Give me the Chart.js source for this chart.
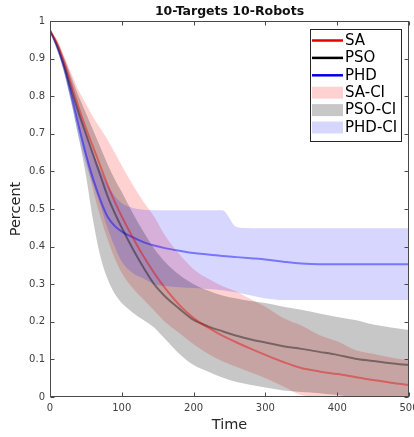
<!DOCTYPE html>
<html>
<head>
<meta charset="utf-8">
<script src="https://cdn.jsdelivr.net/npm/chart.js@4/dist/chart.umd.min.js"></script>
<style>
html,body{margin:0;padding:0;background:#fff;}
#c{display:block;}
</style>
</head>
<body>
<canvas id="c" width="414" height="437"></canvas>
<script>
// ---- data ----
const TIME = [0,10,20,30,40,50,60,70,80,90,100,115,130,145,160,180,200,220,240,260,280,300,325,350,375,400,425,450,475,500];
const SA     = [.975,.94,.89,.83,.77,.715,.665,.615,.565,.52,.48,.425,.375,.33,.29,.245,.21,.185,.163,.145,.128,.112,.093,.077,.068,.061,.053,.045,.038,.032];
const PSO    = [.975,.935,.88,.815,.755,.70,.645,.59,.535,.49,.45,.395,.345,.30,.268,.235,.205,.188,.175,.163,.153,.145,.135,.128,.12,.112,.102,.096,.09,.085];
const PHD    = [.975,.93,.875,.80,.72,.645,.58,.525,.48,.455,.44,.425,.412,.403,.396,.389,.383,.379,.375,.372,.369,.366,.36,.355,.353,.353,.353,.353,.353,.353];
const SA_HI  = [.975,.95,.905,.86,.815,.78,.745,.715,.685,.65,.615,.565,.52,.48,.43,.38,.34,.315,.295,.28,.26,.24,.21,.19,.165,.148,.125,.115,.105,.098];
const SA_LO  = [.975,.93,.87,.80,.72,.635,.55,.48,.42,.37,.33,.29,.26,.23,.20,.17,.14,.115,.095,.08,.065,.05,.028,.005,0,0,0,0,0,0];
const PSO_HI = [.975,.945,.90,.85,.80,.755,.71,.665,.62,.58,.545,.49,.44,.395,.36,.325,.30,.283,.27,.262,.255,.25,.24,.232,.222,.213,.205,.193,.185,.178];
const PSO_LO = [.975,.925,.86,.78,.69,.59,.47,.375,.315,.275,.25,.225,.205,.185,.155,.115,.085,.068,.052,.04,.032,.025,.017,.013,.01,.005,0,0,0,0];
const PHD_HI = [.975,.94,.89,.83,.765,.705,.65,.605,.565,.535,.515,.503,.498,.497,.497,.497,.497,.497,.497,.452,.449,.449,.449,.449,.449,.449,.449,.449,.449,.449];
const PHD_LO = [.975,.925,.86,.78,.69,.62,.565,.51,.45,.40,.36,.33,.315,.30,.295,.292,.29,.287,.284,.278,.27,.262,.258,.258,.258,.258,.258,.258,.258,.258];
const X_TICKS = [0,100,200,300,400,500];
const Y_TICKS = [0,0.1,0.2,0.3,0.4,0.5,0.6,0.7,0.8,0.9,1];
const LEGEND = [
  {label:'SA',     kind:'line', color:'rgb(230,0,0)'},
  {label:'PSO',    kind:'line', color:'rgb(0,0,0)'},
  {label:'PHD',    kind:'line', color:'rgb(0,0,230)'},
  {label:'SA-CI',  kind:'box',  color:'rgba(255,0,0,0.18)'},
  {label:'PSO-CI', kind:'box',  color:'rgba(0,0,0,0.22)'},
  {label:'PHD-CI', kind:'box',  color:'rgba(0,0,255,0.16)'}
];

const pts = arr => TIME.map((t,i)=>({x:t,y:arr[i]}));
const lineDs = (label, arr, color) => ({label, data:pts(arr), borderColor:color, borderWidth:2,
  pointRadius:0, fill:false, cubicInterpolationMode:'monotone', order:0});
const bandHi = (label, arr, color, order) => ({label, data:pts(arr), borderWidth:0, borderColor:'rgba(0,0,0,0)',
  backgroundColor:color, pointRadius:0, fill:'+1', cubicInterpolationMode:'monotone', order});
const bandLo = (label, arr, order) => ({label, data:pts(arr), borderWidth:0, borderColor:'rgba(0,0,0,0)',
  pointRadius:0, fill:false, cubicInterpolationMode:'monotone', order});

const datasets = [
  lineDs('SA', SA, 'rgba(230,0,0,0.42)'),
  lineDs('PSO', PSO, 'rgba(0,0,0,0.4)'),
  lineDs('PHD', PHD, 'rgba(0,0,255,0.45)'),
  bandHi('SA-CI', SA_HI, 'rgba(255,0,0,0.18)', 3),
  bandLo('SA-CI-low', SA_LO, 3),
  bandHi('PSO-CI', PSO_HI, 'rgba(0,0,0,0.22)', 2),
  bandLo('PSO-CI-low', PSO_LO, 2),
  bandHi('PHD-CI', PHD_HI, 'rgba(0,0,255,0.16)', 1),
  bandLo('PHD-CI-low', PHD_LO, 1)
];

const axisBox = {
  id:'axisBox',
  afterDatasetsDraw(chart){
    const {ctx, chartArea:a, scales:{x, y}} = chart;
    ctx.save();
    ctx.strokeStyle = '#4a4a4a';
    ctx.lineWidth = 1;
    const L = Math.round(a.left)+0.5, R = Math.round(a.right)-0.5, T = Math.round(a.top)+0.5, B = Math.round(a.bottom)-0.5;
    ctx.strokeRect(L, T, R-L, B-T);
    ctx.beginPath();
    const tl = 4;
    X_TICKS.forEach(v=>{
      const px = Math.round(x.getPixelForValue(v))+0.5;
      ctx.moveTo(px, B); ctx.lineTo(px, B-tl);
      ctx.moveTo(px, T); ctx.lineTo(px, T+tl);
    });
    Y_TICKS.forEach(v=>{
      const py = Math.round(y.getPixelForValue(v))+0.5;
      ctx.moveTo(L, py); ctx.lineTo(L+tl, py);
      ctx.moveTo(R, py); ctx.lineTo(R-tl, py);
    });
    ctx.stroke();
    ctx.restore();
  }
};

const boxLegend = {
  id:'boxLegend',
  afterDraw(chart){
    const ctx = chart.ctx;
    ctx.save();
    const bx = 310.5, by = 29.5, bw = 91, bh = 112;
    ctx.fillStyle = '#fff';
    ctx.fillRect(bx, by, bw, bh);
    ctx.strokeStyle = '#262626';
    ctx.lineWidth = 1;
    ctx.strokeRect(bx, by, bw, bh);
    ctx.font = '15px "DejaVu Sans"';
    ctx.textBaseline = 'middle';
    ctx.textAlign = 'left';
    LEGEND.forEach((it, i)=>{
      const cy = 40.5 + i*17.4;
      if (it.kind === 'line') {
        ctx.strokeStyle = it.color;
        ctx.lineWidth = 2.5;
        ctx.beginPath(); ctx.moveTo(312, cy); ctx.lineTo(343, cy); ctx.stroke();
      } else {
        ctx.fillStyle = it.color;
        ctx.fillRect(312, cy-6, 31, 12);
      }
      ctx.fillStyle = '#000';
      ctx.fillText(it.label, 345, cy+0.5);
    });
    ctx.restore();
  }
};

const fmt = v => String(Math.round(v*10)/10);

new Chart(document.getElementById('c'), {
  type:'line',
  data:{datasets},
  options:{
    responsive:false,
    animation:false,
    devicePixelRatio:1,
    layout:{padding:{left:0,right:5,top:0,bottom:0}},
    plugins:{
      legend:{display:false},
      tooltip:{enabled:false},
      filler:{propagate:false},
      title:{display:true, text:'10-Targets 10-Robots', fullSize:false,
        font:{family:'"DejaVu Sans"', size:12.5, weight:'bold'}, color:'#111',
        padding:{top:4,bottom:2}}
    },
    scales:{
      x:{type:'linear', min:0, max:500,
        ticks:{stepSize:100, font:{family:'"DejaVu Sans"', size:10}, color:'#404040', padding:5, maxRotation:0, callback:v=>fmt(v)},
        grid:{display:false, drawTicks:false}, border:{display:false},
        title:{display:true, text:'Time', font:{family:'"DejaVu Sans"', size:14.5}, color:'#262626', padding:{top:0,bottom:3}},
        afterFit(s){ s.height = 40; s.paddingLeft = 0; s.paddingRight = 0; }
      },
      y:{type:'linear', min:0, max:1,
        ticks:{stepSize:0.1, font:{family:'"DejaVu Sans"', size:10}, color:'#404040', padding:5, callback:v=>fmt(v)},
        grid:{display:false, drawTicks:false}, border:{display:false},
        title:{display:true, text:'Percent', font:{family:'"DejaVu Sans"', size:14.5}, color:'#262626', padding:{top:8,bottom:0}},
        afterFit(s){ s.width = 50; s.paddingTop = 0; s.paddingBottom = 0; }
      }
    }
  },
  plugins:[axisBox, boxLegend]
});
</script>
</body>
</html>
